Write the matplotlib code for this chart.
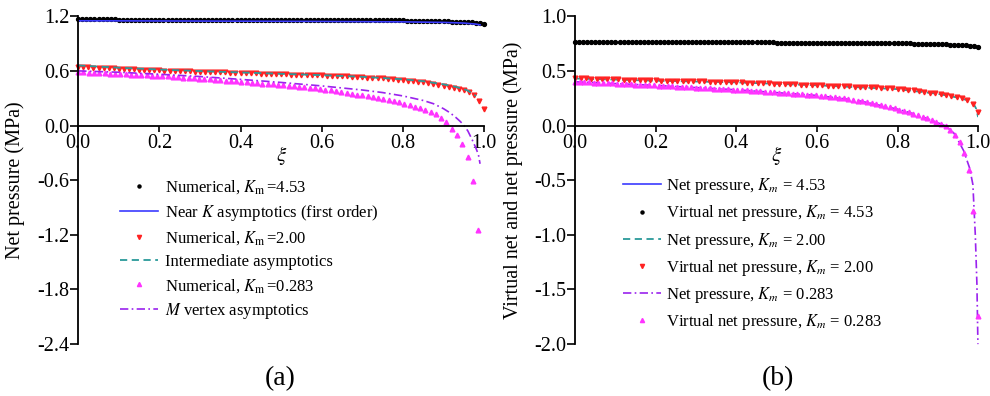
import numpy as np
import matplotlib.pyplot as plt
from matplotlib.lines import Line2D

plt.rcParams['font.family'] = ['Liberation Serif', 'DejaVu Serif']
plt.rcParams['mathtext.fontset'] = 'stix'

# --- panel (a): net pressure ---
xi_a_k = np.linspace(0.0, 1.0, 101)
p_a_k = [1.165, 1.165, 1.165, 1.165, 1.165, 1.165, 1.165, 1.165, 1.165, 1.165,
         1.164, 1.164, 1.164, 1.164, 1.164, 1.164, 1.164, 1.164, 1.164, 1.164,
         1.163, 1.163, 1.163, 1.163, 1.163, 1.163, 1.163, 1.163, 1.163, 1.163,
         1.162, 1.162, 1.162, 1.162, 1.162, 1.162, 1.162, 1.162, 1.162, 1.162,
         1.161, 1.161, 1.161, 1.161, 1.161, 1.161, 1.161, 1.161, 1.161, 1.161,
         1.160, 1.160, 1.160, 1.160, 1.160, 1.160, 1.160, 1.160, 1.160, 1.160,
         1.158, 1.158, 1.158, 1.158, 1.158, 1.158, 1.158, 1.158, 1.158, 1.158,
         1.156, 1.156, 1.156, 1.156, 1.156, 1.156, 1.156, 1.156, 1.156, 1.156,
         1.154, 1.153, 1.152, 1.151, 1.150, 1.149, 1.148, 1.147, 1.146, 1.145,
         1.144, 1.143, 1.142, 1.141, 1.140, 1.138, 1.136, 1.133, 1.130, 1.126,
         1.120]

xi_a_kasym = [0.0, 0.2, 0.4, 0.6, 0.8, 0.9, 0.95, 0.98, 0.99]
p_a_kasym = [1.150, 1.148, 1.146, 1.143, 1.138, 1.132, 1.125, 1.113, 1.105]

xi_a_mid = np.linspace(0.0, 1.0, 81)
p_a_mid = [0.645, 0.642, 0.640, 0.637, 0.635, 0.632, 0.630, 0.627, 0.625, 0.622,
           0.620, 0.617, 0.615, 0.612, 0.610, 0.607, 0.605, 0.603, 0.602, 0.600,
           0.598, 0.597, 0.595, 0.593, 0.591, 0.590, 0.588, 0.586, 0.585, 0.583,
           0.581, 0.580, 0.578, 0.576, 0.575, 0.573, 0.571, 0.569, 0.567, 0.566,
           0.564, 0.562, 0.560, 0.559, 0.557, 0.555, 0.553, 0.552, 0.550, 0.548,
           0.546, 0.543, 0.541, 0.539, 0.536, 0.533, 0.530, 0.527, 0.524, 0.520,
           0.517, 0.513, 0.509, 0.505, 0.500, 0.494, 0.488, 0.481, 0.474, 0.466,
           0.457, 0.447, 0.436, 0.424, 0.412, 0.399, 0.385, 0.365, 0.335, 0.265,
           0.185]

xi_a_inter = [0.0, 0.1, 0.2, 0.3, 0.4, 0.5, 0.6, 0.7, 0.8, 0.85, 0.9, 0.93, 0.95, 0.96, 0.97, 0.98]
p_a_inter = [0.660, 0.635, 0.615, 0.598, 0.583, 0.568, 0.553, 0.535, 0.508, 0.487, 0.452, 0.425, 0.400, 0.383, 0.355, 0.325]

xi_a_m = np.linspace(0.0, 0.985, 77)
p_a_m = [0.585, 0.583, 0.580, 0.578, 0.576, 0.573, 0.571, 0.569, 0.566, 0.563,
         0.560, 0.558, 0.555, 0.552, 0.549, 0.546, 0.543, 0.539, 0.535, 0.531,
         0.527, 0.523, 0.519, 0.516, 0.511, 0.507, 0.502, 0.498, 0.493, 0.489,
         0.484, 0.480, 0.475, 0.470, 0.465, 0.460, 0.455, 0.451, 0.446, 0.441,
         0.435, 0.430, 0.424, 0.418, 0.413, 0.407, 0.402, 0.395, 0.385, 0.376,
         0.367, 0.358, 0.349, 0.340, 0.331, 0.320, 0.309, 0.298, 0.287, 0.276,
         0.265, 0.254, 0.241, 0.225, 0.208, 0.191, 0.172, 0.149, 0.122, 0.080,
         0.040, -0.040, -0.100, -0.200, -0.350, -0.610, -1.150]

xi_a_vertex = [0.0, 0.1, 0.2, 0.3, 0.4, 0.5, 0.6, 0.7, 0.75, 0.8, 0.85, 0.875, 0.9,
               0.916, 0.93, 0.94, 0.949, 0.96, 0.97, 0.98, 0.986, 0.99]
p_a_vertex = [0.600, 0.585, 0.563, 0.538, 0.507, 0.473, 0.435, 0.390, 0.362, 0.325, 0.275,
              0.240, 0.185, 0.140, 0.090, 0.050, 0.010, -0.060, -0.150, -0.250, -0.320, -0.420]

# --- panel (b): virtual net and net pressure ---
xi_b_k = np.linspace(0.0, 1.0, 101)
v_b_k = [0.764, 0.764, 0.764, 0.764, 0.764, 0.764, 0.764, 0.764, 0.764, 0.764,
         0.763, 0.763, 0.763, 0.763, 0.763, 0.763, 0.763, 0.763, 0.763, 0.763,
         0.762, 0.762, 0.762, 0.762, 0.762, 0.762, 0.762, 0.762, 0.762, 0.762,
         0.761, 0.761, 0.761, 0.761, 0.761, 0.761, 0.761, 0.761, 0.761, 0.761,
         0.760, 0.760, 0.760, 0.760, 0.760, 0.760, 0.760, 0.760, 0.760, 0.760,
         0.759, 0.759, 0.759, 0.759, 0.759, 0.759, 0.759, 0.759, 0.759, 0.759,
         0.758, 0.758, 0.758, 0.758, 0.758, 0.758, 0.758, 0.758, 0.758, 0.758,
         0.756, 0.756, 0.756, 0.756, 0.756, 0.756, 0.756, 0.756, 0.756, 0.756,
         0.754, 0.753, 0.752, 0.751, 0.750, 0.749, 0.748, 0.747, 0.746, 0.745,
         0.744, 0.743, 0.742, 0.741, 0.740, 0.738, 0.736, 0.734, 0.731, 0.727,
         0.721]

xi_b_knet = [0.0, 0.2, 0.4, 0.6, 0.8, 0.9, 0.95, 0.98, 1.0]
p_b_knet = [0.760, 0.758, 0.756, 0.754, 0.750, 0.744, 0.737, 0.728, 0.712]

xi_b_mid = np.linspace(0.0, 1.0, 76)
v_b_mid = [0.434, 0.433, 0.431, 0.430, 0.428, 0.427, 0.426, 0.424, 0.423, 0.421,
           0.420, 0.419, 0.417, 0.416, 0.414, 0.413, 0.412, 0.411, 0.410, 0.409,
           0.408, 0.407, 0.405, 0.404, 0.403, 0.402, 0.401, 0.400, 0.399, 0.398,
           0.397, 0.395, 0.393, 0.392, 0.390, 0.388, 0.386, 0.384, 0.383, 0.381,
           0.379, 0.377, 0.375, 0.374, 0.372, 0.370, 0.368, 0.366, 0.365, 0.363,
           0.361, 0.359, 0.357, 0.355, 0.353, 0.350, 0.348, 0.345, 0.342, 0.339,
           0.336, 0.332, 0.327, 0.322, 0.315, 0.309, 0.302, 0.294, 0.287, 0.280,
           0.271, 0.261, 0.249, 0.231, 0.200, 0.120]

xi_b_midnet = [0.0, 0.2, 0.4, 0.6, 0.8, 0.9, 0.95, 0.97, 0.98, 0.99, 0.995, 1.0]
p_b_midnet = [0.430, 0.410, 0.395, 0.368, 0.333, 0.290, 0.255, 0.235, 0.220, 0.190, 0.155, 0.077]

xi_b_m = np.linspace(0.0, 1.0, 88)
v_b_m = [0.400, 0.398, 0.396, 0.394, 0.392, 0.390, 0.389, 0.387, 0.385, 0.383,
         0.381, 0.379, 0.377, 0.375, 0.373, 0.371, 0.369, 0.367, 0.366, 0.363,
         0.361, 0.359, 0.356, 0.354, 0.352, 0.350, 0.347, 0.345, 0.343, 0.340,
         0.338, 0.336, 0.333, 0.331, 0.329, 0.327, 0.324, 0.321, 0.318, 0.315,
         0.312, 0.309, 0.306, 0.303, 0.300, 0.297, 0.294, 0.291, 0.288, 0.285,
         0.282, 0.279, 0.276, 0.271, 0.266, 0.262, 0.257, 0.252, 0.248, 0.244,
         0.237, 0.229, 0.221, 0.213, 0.205, 0.196, 0.187, 0.177, 0.167, 0.156,
         0.145, 0.133, 0.121, 0.108, 0.095, 0.080, 0.065, 0.049, 0.032, 0.013,
         -0.008, -0.040, -0.085, -0.150, -0.250, -0.410, -0.780, -1.740]

xi_b_mnet = [0.0, 0.2, 0.4, 0.6, 0.7, 0.8, 0.85, 0.9, 0.92, 0.94, 0.951, 0.964,
             0.979, 0.987, 0.993, 0.997, 0.9995]
p_b_mnet = [0.400, 0.367, 0.327, 0.275, 0.230, 0.150, 0.097, 0.025, -0.005, -0.070,
            -0.140, -0.230, -0.390, -0.540, -1.000, -1.450, -2.000]

c_blue = '#3b3bff'
c_red = '#ff2222'
c_teal = '#2a9a9a'
c_mag = '#ff33ff'
c_purp = '#9a22ee'

fig = plt.figure(figsize=(9.9, 3.96), dpi=100)
ax1 = fig.add_axes([0.079, 0.131, 0.410, 0.828])
ax2 = fig.add_axes([0.581, 0.131, 0.407, 0.828])

# (a)
ax1.plot(xi_a_k, p_a_k, 'o', color='black', ms=2.8, clip_on=False)
ax1.plot(xi_a_kasym, p_a_kasym, '-', color=c_blue, lw=1.2)
ax1.plot(xi_a_mid, p_a_mid, 'v', color=c_red, ms=3.4, clip_on=False)
ax1.plot(xi_a_inter, p_a_inter, '--', color=c_teal, lw=1.3, dashes=(4, 2.5))
ax1.plot(xi_a_m, p_a_m, '^', color=c_mag, ms=3.4, clip_on=False)
ax1.plot(xi_a_vertex, p_a_vertex, '-.', color=c_purp, lw=1.2, dashes=(5, 2, 1, 2))

# (b)
ax2.plot(xi_b_knet, p_b_knet, '-', color=c_blue, lw=1.2)
ax2.plot(xi_b_k, v_b_k, 'o', color='black', ms=2.8, clip_on=False)
ax2.plot(xi_b_midnet, p_b_midnet, '--', color=c_teal, lw=1.3, dashes=(4, 2.5))
ax2.plot(xi_b_mid, v_b_mid, 'v', color=c_red, ms=3.4, clip_on=False)
ax2.plot(xi_b_mnet, p_b_mnet, '-.', color=c_purp, lw=1.2, dashes=(5, 2, 1, 2), clip_on=False)
ax2.plot(xi_b_m, v_b_m, '^', color=c_mag, ms=3.4, clip_on=False)

for ax, ylim, yticks, ylab in [
        (ax1, (-2.4, 1.2), [-2.4, -1.8, -1.2, -0.6, 0.0, 0.6, 1.2], 'Net pressure (MPa)'),
        (ax2, (-2.0, 1.0), [-2.0, -1.5, -1.0, -0.5, 0.0, 0.5, 1.0], 'Virtual net and net pressure (MPa)')]:
    ax.set_xlim(0, 1.0)
    ax.set_ylim(*ylim)
    ax.set_yticks(yticks)
    ax.set_yticklabels(['%.1f' % v for v in yticks])
    ax.set_xticks([0.0, 0.2, 0.4, 0.6, 0.8, 1.0])
    ax.set_xticklabels(['0.0', '0.2', '0.4', '0.6', '0.8', '1.0'])
    ax.spines['top'].set_visible(False)
    ax.spines['right'].set_visible(False)
    ax.spines['bottom'].set_position(('data', 0))
    ax.spines['left'].set_linewidth(1.3)
    ax.spines['bottom'].set_linewidth(1.3)
    ax.tick_params(direction='out', length=4, width=1.2, labelsize=14.5, pad=2)
    ax.tick_params(axis='y', length=5.5, pad=1)
    ax.set_ylabel(ylab, fontsize=14.5)
    ax.yaxis.set_label_coords(-0.13, 0.5)
    ax.text(0.5, 0.576, r'$\xi$', transform=ax.transAxes, fontsize=15, ha='center', va='center')
    ax.set_facecolor('none')

leg_a = [
    Line2D([], [], ls='none', marker='o', color='black', ms=2.2),
    Line2D([], [], color=c_blue, lw=1.2),
    Line2D([], [], ls='none', marker='v', color=c_red, ms=3),
    Line2D([], [], color=c_teal, lw=1.3, ls='--', dashes=(4, 2.5)),
    Line2D([], [], ls='none', marker='^', color=c_mag, ms=3),
    Line2D([], [], color=c_purp, lw=1.2, ls='-.', dashes=(5, 2, 1, 2)),
]
lab_a = [r'Numerical, $K_{\rm m}\,$=4.53', r'Near $K$ asymptotics (first order)',
         r'Numerical, $K_{\rm m}\,$=2.00', 'Intermediate asymptotics',
         r'Numerical, $K_{\rm m}\,$=0.283', r'$M$ vertex asymptotics']
ax1.legend(leg_a, lab_a, loc='upper left', bbox_to_anchor=(0.103, 0.505), frameon=False,
           borderpad=0, borderaxespad=0, handlelength=2.3, handletextpad=0.4,
           labelspacing=0.4, fontsize=12)

leg_b = [
    Line2D([], [], color=c_blue, lw=1.2),
    Line2D([], [], ls='none', marker='o', color='black', ms=2.2),
    Line2D([], [], color=c_teal, lw=1.3, ls='--', dashes=(4, 2.5)),
    Line2D([], [], ls='none', marker='v', color=c_red, ms=3),
    Line2D([], [], color=c_purp, lw=1.2, ls='-.', dashes=(5, 2, 1, 2)),
    Line2D([], [], ls='none', marker='^', color=c_mag, ms=3),
]
lab_b = [r'Net pressure, $K_m$ = 4.53', r'Virtual net pressure, $K_m$ = 4.53',
         r'Net pressure, $K_m$ = 2.00', r'Virtual net pressure, $K_m$ = 2.00',
         r'Net pressure, $K_m$ = 0.283', r'Virtual net pressure, $K_m$ = 0.283']
ax2.legend(leg_b, lab_b, loc='upper left', bbox_to_anchor=(0.119, 0.512), frameon=False,
           borderpad=0, borderaxespad=0, handlelength=2.3, handletextpad=0.3,
           labelspacing=0.43, fontsize=12)

fig.text(0.283, 0.045, '(a)', fontsize=20, ha='center', va='center')
fig.text(0.786, 0.045, '(b)', fontsize=20, ha='center', va='center')

fig.savefig('out.png', dpi=100)
